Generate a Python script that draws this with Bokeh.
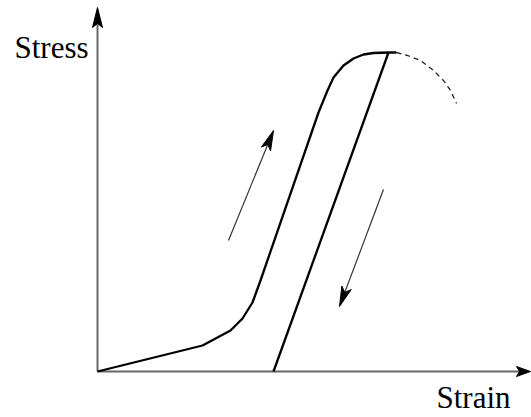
import numpy as np
from bokeh.plotting import figure
from bokeh.models import Range1d
from bokeh.core.properties import value
from bokeh.embed import file_html
from bokeh.resources import INLINE

# Loading curve (strain, stress) in arbitrary units
load_strain = [0, 105, 133, 145, 155, 163, 221, 230, 236, 246, 256, 266, 276, 291, 299]
load_stress = [0, 26, 41, 53, 69, 91, 259, 281, 294, 306, 313, 317, 318.5, 319, 319]
# Unloading line
unload_strain = [291, 176]
unload_stress = [319, 0]
# Dashed continuation (fracture region)
dash_strain = [299, 310, 323, 336, 346, 353, 359]
dash_stress = [319, 316, 311, 301, 291, 281, 268]
# Direction arrows (start -> end)
up_arrow = dict(x0=131, y0=131, x1=176, y1=241)
down_arrow = dict(x0=286, y0=182, x1=242, y1=65)
# Axes extents
x_axis_end = 433
y_axis_end = 364
# Labels
y_label, x_label = "Stress", "Strain"

p = figure(width=531, height=417, output_backend="svg", toolbar_location=None,
           x_range=Range1d(-97, 434), y_range=Range1d(-46, 371),
           min_border=0, outline_line_color=None)
p.axis.visible = False
p.grid.visible = False
p.background_fill_color = "white"
p.border_fill_color = "white"


def head(x0, y0, x1, y1, length, half_w, indent):
    d = np.array([x1 - x0, y1 - y0], dtype=float)
    d /= np.hypot(*d)
    n = np.array([-d[1], d[0]])
    tip = np.array([x1, y1], dtype=float)
    base = tip - d * length
    notch = tip - d * (length - indent)
    pts = [tip, base + n * half_w, notch, base - n * half_w]
    return [pt[0] for pt in pts], [pt[1] for pt in pts]

# Axes
axis_col = "#666666"
p.line([0, x_axis_end - 8], [0, 0], line_color=axis_col, line_width=2)
p.line([0, 0], [0, y_axis_end - 8], line_color=axis_col, line_width=2)
hx, hy = head(0, 0, x_axis_end, 0, 14, 5, 3)
p.patch(hx, hy, fill_color="black", line_color="black")
hx, hy = head(0, 0, 0, y_axis_end, 20, 5, 4)
p.patch(hx, hy, fill_color="black", line_color="black")

# Curves
p.line(load_strain, load_stress, line_color="black", line_width=2.3, line_join="round")
p.line(unload_strain, unload_stress, line_color="black", line_width=2.3)
p.line(dash_strain, dash_stress, line_color="#222222", line_width=1.3, line_dash="5 4")

# Direction arrows
for a in (up_arrow, down_arrow):
    d = np.array([a["x1"] - a["x0"], a["y1"] - a["y0"]], dtype=float)
    d /= np.hypot(*d)
    p.line([a["x0"], a["x1"] - d[0] * 10], [a["y0"], a["y1"] - d[1] * 10],
           line_color="#333333", line_width=1.2)
    hx, hy = head(a["x0"], a["y0"], a["x1"], a["y1"], 20, 5, 5)
    p.patch(hx, hy, fill_color="black", line_color="black")

# Labels
p.text(x=[-83], y=[324], text=[y_label], text_font=value("Liberation Serif"),
       text_font_size="31px", text_baseline="alphabetic", text_color="black")
p.text(x=[339], y=[-26], text=[x_label], text_font=value("Liberation Serif"),
       text_font_size="31px", text_baseline="alphabetic", text_color="black")

open("out.html", "w").write(file_html(p, INLINE))
